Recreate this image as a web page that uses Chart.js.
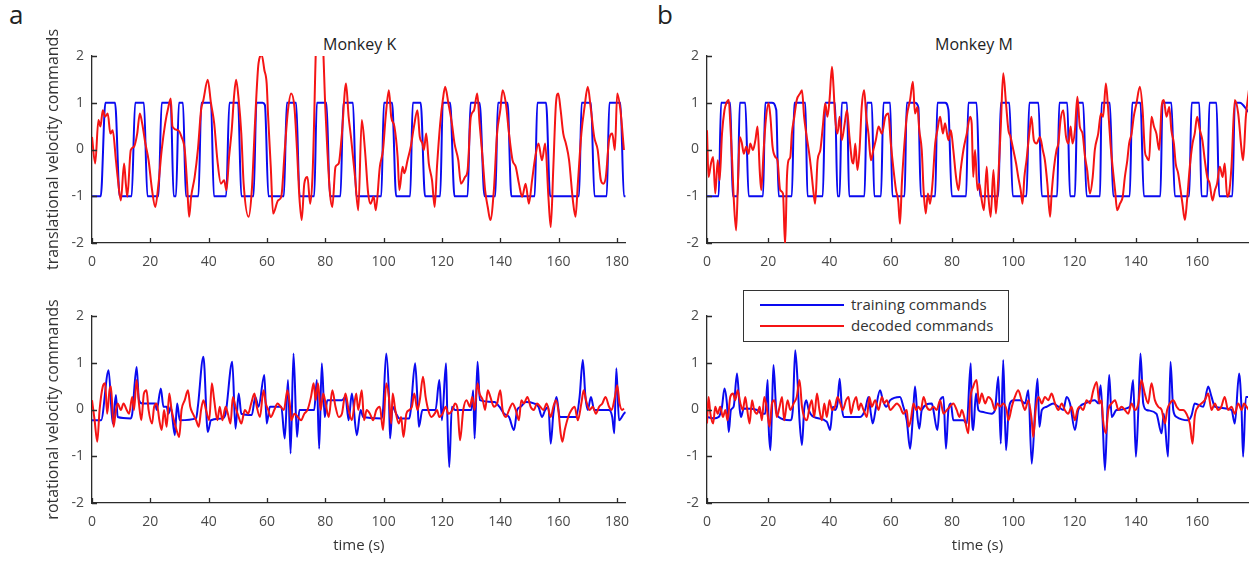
<!DOCTYPE html>
<html>
<head>
<meta charset="utf-8">
<script src="https://cdn.jsdelivr.net/npm/chart.js@4.4.1/dist/chart.umd.min.js"></script>
<style>
  body { margin: 0; background: #fff; }
  #wrap { position: relative; width: 1249px; height: 562px; overflow: hidden; font-family: 'Open Sans', sans-serif; color: #222; }
  canvas { position: absolute; }
  .txt { position: absolute; white-space: nowrap; }
  #legend { position: absolute; left: 743px; top: 290px; width: 264px; height: 50px; border: 1px solid #333; background: #fff; z-index: 5; }
  #legend .ln { position: absolute; left: 16px; width: 84px; height: 2px; }
  #legend .lt { position: absolute; left: 107px; font-size: 15px; color: #333; line-height: 18px; }
</style>
</head>
<body>
<div id="wrap">
  <div class="txt" style="left:9px;top:-4px;font-size:26px;">a</div>
  <div class="txt" style="left:657px;top:-4px;font-size:26px;">b</div>
  <div class="txt" style="left:323px;top:33px;font-size:16px;">Monkey K</div>
  <div class="txt" style="left:935px;top:33px;font-size:16px;">Monkey M</div>

  <canvas id="kTrans" width="640" height="269" style="left:0;top:10px"></canvas>
  <canvas id="kRot" width="640" height="279" style="left:0;top:280px"></canvas>
  <canvas id="mTrans" width="599" height="269" style="left:650px;top:10px"></canvas>
  <canvas id="mRot" width="599" height="279" style="left:650px;top:280px"></canvas>

  <div id="legend">
    <div class="ln" style="top:13px;background:#0a0af0"></div>
    <div class="lt" style="top:4px">training commands</div>
    <div class="ln" style="top:34px;background:#f51414"></div>
    <div class="lt" style="top:25px">decoded commands</div>
  </div>
</div>
<script>
// ---- data (time in s, command value) ----
const kTimeTicks = [0, 20, 40, 60, 80, 100, 120, 140, 160, 180];
const mTimeTicks = [0, 20, 40, 60, 80, 100, 120, 140, 160];
const valueTicks = [-2, -1, 0, 1, 2];
const kTimeMax = 183;
const mTimeMax = 176.6;

// Monkey K, translational
const kTransTraining = [[0,-1],[3.0,-1],[4.6,1],[7.9,1],[9.5,-1],[13.6,-1],[14.8,1],[17.8,1],[19.0,-1],[22.8,-1],[23.9,1],[27.0,1],[28.0,-1],[28.8,-1],[29.8,1],[31.2,1],[32.2,-1],[36.5,-1],[37.5,1],[40.8,1],[41.8,-1],[46.0,-1],[47.1,1],[50.1,1],[51.2,-1],[55.4,-1],[56.4,1],[58.5,1],[59.3,0.95],[60.5,-1],[65.8,-1],[66.8,1],[70.0,1],[71.2,-1],[76.2,-1],[77.1,1],[80.4,1],[81.6,-1],[85.2,-1],[86.2,1],[89.5,1],[90.6,-1],[99.2,-1],[100.1,1],[102.9,1],[104.3,-1],[109.1,-1],[110.0,1],[112.7,1],[114.2,-1],[119.4,-1],[120.3,1],[122.8,1],[124.3,-1],[128.8,-1],[129.8,1],[132.9,1],[134.6,-1],[138.3,-1],[139.2,1],[142.5,1],[143.8,-1],[151.8,-1],[152.7,1],[155.7,1],[157.1,-1],[167.0,-1],[167.9,1],[171.1,1],[172.3,-1],[176.5,-1],[177.4,1],[181.2,1],[182.4,-1],[183,-1]];
const kTransDecoded = [[0,0.27],[1.1,-0.3],[2.2,0.63],[2.9,0.49],[3.7,0.84],[4.5,0.7],[5.4,0.77],[6.3,0.34],[7.1,0.41],[8.2,-0.23],[8.8,-0.59],[9.9,-1.09],[11,-0.3],[11.6,-0.73],[12.1,-1.01],[13.3,-0.01],[14.4,0.06],[15.5,0.34],[16.4,0.77],[17.2,0.56],[18.3,0.13],[19.4,-0.23],[20.6,-0.87],[21.7,-1.23],[22.8,-0.73],[23.9,-0.01],[25.1,0.56],[26.2,0.91],[27,1.09],[27.6,0.49],[29.6,0.41],[30.7,0.27],[31.8,-0.01],[32.6,-0.73],[33.3,-1.44],[34,-1.01],[35.2,-0.59],[36.3,-0.01],[37.4,0.84],[38.2,1.06],[39.7,1.49],[40.8,0.99],[41.9,0.56],[43,-0.23],[44.2,-0.73],[45.3,-0.66],[46.1,-0.87],[47,-0.16],[47.9,0.41],[48.7,1.13],[49.4,1.49],[50.3,1.06],[51.2,0.34],[52,-0.73],[53.7,-1.44],[54.8,-0.87],[56,0.7],[57.1,1.84],[58.2,2.02],[59.1,1.7],[59.9,1.41],[60.4,0.7],[61.3,-0.37],[62.1,-1.37],[63.8,-1.09],[64.9,-1.01],[66.1,-0.01],[67.2,0.84],[68.3,1.2],[69.4,0.91],[70.3,-0.01],[71.1,-1.01],[71.9,-1.51],[72.8,-0.73],[73.9,-0.59],[74.8,-1.16],[75.6,-0.59],[76.0,0.2],[76.9,2.4],[78,3],[79.1,2.4],[80,0.9],[80.7,-0.01],[81.6,-0.94],[82.4,-1.23],[83.5,-0.37],[84.6,-0.3],[85.7,0.34],[87.1,1.41],[88,0.7],[88.8,0.27],[90.2,-0.59],[91.3,-1.3],[92.5,0.63],[93.6,-0.01],[94.7,-0.94],[95.5,-1.16],[96.6,-1.01],[97.3,-1.3],[98.7,-0.37],[99.8,-0.01],[100.7,0.7],[101.8,1.27],[102.6,0.7],[103.7,0.49],[104.8,-0.16],[105.4,-0.87],[106.5,-0.37],[107.1,-0.51],[108.2,-0.23],[109.3,0.06],[110.4,0.49],[111.6,0.84],[112.4,0.27],[113.3,0.13],[113.8,-0.01],[114.6,0.34],[115.5,-0.3],[116.6,-0.66],[117.5,-1.23],[118.3,-0.37],[119.4,0.56],[120.3,1.06],[121.1,1.34],[122.2,0.99],[123.4,0.56],[124.3,0.13],[125.6,-0.23],[126.5,-0.73],[127.9,-0.59],[128.8,-0.44],[129.9,0.7],[131,0.84],[132.1,1.2],[132.9,0.56],[134,-0.23],[134.8,-0.87],[135.7,-1.23],[136.6,-1.51],[137.8,-0.87],[138.9,0.34],[140,0.84],[140.8,1.27],[141.9,0.99],[143,0.34],[144.2,-0.23],[145.3,-0.37],[146.4,-0.73],[147.5,-1.01],[148.7,-0.73],[149.8,-1.16],[150.9,-0.66],[152,-0.16],[153.1,0.13],[154.3,-0.23],[155.4,0.13],[156.5,-1.01],[157.3,-1.66],[158.2,-0.37],[159.1,0.99],[159.9,1.2],[160.7,0.84],[161.6,0.34],[162.5,0.13],[163.6,-0.23],[164.9,-1.09],[165.8,-1.44],[166.6,-0.73],[167.8,0.34],[168.9,0.91],[170,1.34],[171.1,0.84],[172.2,0.27],[173.4,-0.01],[174.5,-0.66],[175.3,-0.73],[176.2,-0.59],[177.3,0.2],[178.4,0.34],[179.3,-0.01],[180.1,1.2],[181.2,0.84],[182.4,-0.01]];

// Monkey K, rotational
const kRotTraining = [[0,-0.23],[3.1,-0.23],[5.7,0.84],[7.1,-0.3],[8.2,0.31],[8.8,-0.16],[13.3,-0.19],[13.8,-0.09],[15.3,0.91],[16.1,0.2],[17.2,0.13],[21.7,0.13],[22.2,-0.01],[23.6,0.45],[24.5,0.06],[25.6,0.06],[26.2,-0.09],[27,0.06],[28.4,-0.55],[29.2,0.13],[30.1,-0.23],[35.7,-0.19],[36.3,0.06],[38.2,1.13],[39.7,-0.48],[40.8,-0.23],[44.7,-0.19],[45.8,-0.09],[48.1,1.02],[49.2,-0.41],[50.3,0.34],[51.2,-0.09],[54.8,-0.12],[56,0.27],[57.1,0.06],[59.1,0.74],[59.9,-0.3],[61,0.06],[64.9,0.06],[66.1,-0.62],[67.2,0.63],[68.1,-0.94],[69.1,1.2],[70.3,-0.59],[71.1,-0.01],[76.2,-0.01],[77.1,0.63],[77.9,-0.84],[78.8,0.99],[79.8,-0.16],[80.7,0.2],[85.7,0.2],[86.9,0.27],[88,-0.23],[89.1,0.34],[90.8,-0.55],[92.1,-0.01],[93,-0.16],[99.3,-0.19],[99.8,-0.01],[100.9,1.2],[101.8,0.34],[102.2,-0.62],[103.1,0.06],[104.3,-0.09],[105.4,-0.19],[108.8,-0.19],[109.3,-0.01],[110.8,0.99],[111.6,0.2],[112.1,-0.37],[113.3,-0.01],[117.8,-0.01],[119.1,0.63],[120,-0.23],[121.4,0.99],[121.8,-0.01],[122.5,-1.23],[123.4,0.06],[124.5,-0.01],[130.1,-0.01],[130.7,0.41],[131.2,-0.62],[132.2,1.02],[133,0.2],[138,0.16],[139.7,0.06],[141.3,-0.09],[143,-0.16],[144.7,-0.44],[145.8,-0.01],[147,0.06],[148.7,0.16],[151.5,0.13],[153.1,0.06],[154.3,-0.16],[155.4,-0.01],[156.5,0.06],[157.3,-0.73],[158.2,-0.09],[159.3,0.27],[160.4,-0.16],[166,-0.16],[167.2,0.27],[168.3,1.06],[169.2,0.27],[170,-0.01],[171.1,0.27],[172.2,-0.01],[177.3,-0.01],[178.4,-0.16],[179.1,-0.51],[179.8,0.88],[180.7,-0.23],[182.4,-0.09],[183,-0.05]];
const kRotDecoded = [[0,0.2],[0.9,-0.23],[1.8,-0.69],[2.6,-0.01],[3.7,0.49],[4.5,0.56],[5.2,-0.09],[6,0.41],[6.5,0.49],[7.4,-0.37],[8.2,-0.01],[8.8,0.13],[9.9,-0.01],[10.8,0.13],[11.9,-0.01],[12.7,-0.09],[13.8,0.27],[14.4,-0.01],[15.3,0.63],[16.1,0.13],[16.9,-0.23],[17.8,0.34],[18.7,0.41],[19.4,-0.01],[20.6,-0.3],[21.3,0.06],[22.2,0.13],[23.1,-0.23],[23.9,-0.44],[24.7,-0.01],[25.6,-0.37],[26.5,0.34],[27.3,-0.01],[28.1,-0.23],[29,-0.44],[29.9,-0.59],[30.7,-0.01],[31.8,0.2],[32.9,0.41],[33.7,0.06],[34.6,-0.09],[35.7,-0.23],[36.6,-0.37],[37.4,-0.01],[38.2,0.2],[39.1,-0.01],[40.2,-0.23],[41.1,0.56],[41.9,0.2],[43,-0.23],[43.8,0.06],[44.7,-0.23],[45.8,0.06],[46.6,-0.09],[47.5,-0.3],[48.3,0.27],[49.2,0.06],[50.3,-0.16],[51.2,-0.3],[52.4,-0.01],[53.5,-0.09],[54.6,0.13],[55.7,0.34],[56.5,0.06],[57.6,-0.16],[58.8,0.41],[59.6,0.13],[60.4,-0.01],[61.3,-0.16],[62.5,-0.01],[63.6,0.13],[64.7,0.06],[65.8,-0.01],[67,0.41],[67.8,0.13],[68.3,-0.23],[69.4,-0.09],[70.6,-0.16],[71.7,-0.23],[72.8,-0.09],[73.9,-0.01],[75.1,0.27],[76,0.56],[76.7,0.2],[77.5,0.56],[78.4,-0.01],[79.3,0.34],[80.1,0.13],[81.2,-0.16],[82.4,0.41],[83.5,0.06],[84.6,-0.16],[85.7,-0.09],[86.9,0.34],[88,-0.01],[89.1,-0.23],[90.6,0.34],[91.3,-0.01],[92.5,0.41],[93.3,-0.23],[94.2,-0.01],[95.3,-0.09],[96.4,-0.23],[97.5,-0.01],[98.7,0.06],[99.8,-0.44],[100.9,0.56],[101.8,0.27],[102.6,-0.3],[103.1,0.34],[104,-0.01],[105.2,-0.3],[106,-0.16],[106.8,-0.59],[107.8,-0.09],[108.8,-0.01],[109.7,0.06],[110.5,0.34],[111.6,-0.01],[112.4,0.2],[113.5,0.7],[114.4,0.27],[115.3,-0.01],[116.4,-0.16],[117.5,-0.09],[118.3,-0.01],[119.1,-0.16],[120.2,-0.09],[121.3,0.06],[122.2,-0.09],[123.6,-0.01],[124.5,0.13],[125.4,-0.01],[126.2,-0.66],[127.3,-0.01],[128.4,0.2],[129.6,0.06],[130.4,0.27],[131.2,-0.01],[132.2,0.56],[132.9,0.34],[134,0.2],[134.8,-0.01],[135.7,0.41],[136.6,0.27],[137.8,0.06],[138.9,0.13],[140,0.41],[140.8,-0.01],[141.9,-0.16],[143,-0.01],[144.2,0.13],[145.3,-0.01],[146.4,-0.23],[147.2,0.2],[148.1,0.13],[149.3,0.27],[150.4,0.06],[151.5,-0.01],[152.6,0.13],[153.7,0.06],[154.8,-0.01],[155.9,0.13],[157.3,-0.16],[158.2,0.06],[159.1,0.2],[159.9,-0.01],[160.7,-0.51],[161.3,-0.69],[162.1,-0.44],[163.3,-0.16],[164.4,-0.01],[165.5,0.06],[166.6,-0.23],[167.8,0.13],[168.6,0.41],[169.4,0.2],[170.6,-0.01],[171.7,0.06],[172.8,-0.09],[173.9,0.06],[175,0.13],[176.1,0.27],[177.3,0.06],[178.2,-0.01],[179.3,0.27],[180.1,0.52],[180.9,0.13],[181.8,-0.01],[182.4,0.02]];

// Monkey M, translational
const mTransTraining = [[0,-1],[3.8,-1],[4.6,1],[7.6,1],[8.4,-1],[10,-1],[10.7,1],[12.5,1],[13.6,-1],[18.3,-1],[19,1],[21.2,1],[22.6,0.85],[23.4,-1],[27.7,-1],[28.5,1],[32.1,1],[32.8,-1],[37.8,-1],[38.6,1],[41.8,1],[42.6,-1],[43.3,-1],[44,1],[45.7,1],[46.4,-1],[51.4,-1],[52.2,1],[53.8,1],[54.6,-1],[56.8,-1],[57.6,1],[59.8,1],[60.5,-1],[64.5,-1],[65.2,1],[67.9,1],[69,0.9],[69.8,-1],[74.5,-1],[75.2,1],[77.7,1],[78.8,0.85],[79.9,-1],[84.6,-1],[85.3,1],[88,1],[89.1,-1],[95.1,-1],[95.9,1],[98.7,1],[99.8,-1],[104.3,-1],[105.2,1],[108.2,1],[109.3,-1],[114.3,-1],[115,1],[117.6,1],[118.5,-1],[120.1,-1],[120.9,1],[122.8,1],[123.9,-1],[128.3,-1],[128.8,1],[131.5,1],[132.6,-1],[138,-1],[138.8,1],[141.5,1],[142.6,-1],[148,-1],[148.7,1],[151.6,1],[152.7,-1],[157.4,-1],[158.2,1],[160.7,1],[161.4,-1],[163.3,-1],[164,1],[166.3,1],[167.2,-1],[171.5,-1],[172.3,1],[173.9,1],[176.8,0.8]];
const mTransDecoded = [[0,0.41],[0.5,-0.59],[1.3,-0.3],[2,-0.16],[2.7,-0.94],[3.5,-0.23],[4.1,-0.66],[4.9,0.34],[5.7,0.84],[6.3,0.99],[7.1,1.06],[7.6,0.56],[8.2,-0.23],[8.7,-1.01],[9.5,-1.73],[10.1,-0.73],[10.7,0.27],[11.4,0.13],[12,-0.09],[12.8,0.06],[13.6,-0.09],[14.1,0.13],[15,-0.01],[15.8,0.2],[16.5,0.49],[17.2,-0.44],[17.7,-0.87],[18.5,-0.01],[19.2,0.63],[20.1,0.99],[20.7,0.7],[21.4,0.06],[22.3,-0.16],[23,-0.23],[23.9,-0.87],[24.8,-0.94],[25.5,-2.05],[26.1,-0.59],[26.6,-0.23],[27.2,-0.16],[27.7,0.34],[28.5,0.7],[29.3,1.06],[30.4,1.2],[31,1.27],[31.7,0.7],[32.4,0.34],[33.2,-0.01],[33.9,-0.37],[34.8,-0.94],[35.3,-1.16],[36.1,-0.23],[37,-0.01],[37.8,0.49],[38.6,0.99],[39.3,0.7],[40,1.06],[40.8,1.77],[41.3,1.34],[41.8,0.7],[42.6,0.34],[43.3,0.7],[44,0.2],[44.8,0.49],[45.7,0.84],[46.5,0.27],[47.3,-0.23],[47.8,-0.3],[48.4,0.13],[49.1,-0.44],[49.8,-0.01],[50.5,0.91],[51.3,1.27],[52,0.7],[52.7,0.34],[53.5,-0.23],[54.3,-0.01],[55.1,0.2],[56,0.49],[57.1,0.34],[58.2,0.7],[59.2,0.77],[60,0.13],[60.9,-0.44],[61.7,-0.87],[62.4,-1.09],[63,-1.59],[63.6,-0.73],[64.3,-0.01],[65.2,0.7],[66.3,1.06],[67.2,1.45],[67.9,0.77],[68.7,0.91],[69.3,0.41],[70.1,-0.01],[70.7,-0.87],[71.4,-1.37],[72.1,-0.94],[72.8,-1.16],[73.6,-0.73],[74.5,0.13],[75.2,0.41],[76.1,0.7],[77,0.34],[77.7,0.56],[78.8,0.2],[79.6,0.41],[80.4,-0.01],[81.3,-0.59],[82.1,-0.87],[82.8,-0.44],[83.7,-0.01],[84.8,0.34],[85.9,0.7],[86.4,0.56],[86.9,-0.59],[87.5,-0.01],[88.3,-0.87],[88.9,-0.73],[89.7,-1.09],[90.4,-1.3],[91.3,-0.37],[91.8,-0.94],[92.6,-1.44],[93.5,-0.44],[94.3,-1.37],[95.1,-0.59],[95.9,0.49],[96.7,1.63],[97.6,0.99],[98.4,0.41],[99.1,0.27],[100,-0.01],[100.9,-0.3],[101.6,-0.59],[102.4,-0.87],[103,-1.16],[103.6,-0.59],[104.3,-0.23],[105.2,0.34],[105.9,0.7],[106.7,0.2],[107.6,0.13],[108.7,0.27],[109.6,-0.01],[110.3,-0.23],[111.1,-0.73],[112,-1.44],[112.5,-0.94],[113.3,-0.37],[114.1,-0.01],[114.7,0.13],[115.4,0.63],[116.3,0.84],[117.2,0.27],[118,0.13],[118.7,0.49],[119.3,0.13],[120.1,0.41],[120.9,1.13],[121.7,0.49],[122.6,0.34],[123.4,-0.16],[124.1,-0.44],[125,-0.94],[125.9,-0.59],[126.6,-0.01],[127.7,0.34],[128.6,0.77],[129.3,0.7],[130.2,1.41],[130.9,0.91],[131.7,0.13],[132.4,-0.37],[133.2,-0.87],[133.9,-1.3],[134.8,-1.16],[135.7,-1.01],[136.4,-0.59],[137.2,-0.23],[137.8,0.13],[138.6,0.34],[139.3,0.7],[140.2,0.99],[141.3,1.34],[142.2,0.84],[142.9,-0.01],[143.5,-0.16],[144.3,-0.23],[145.1,0.7],[145.9,0.49],[146.7,0.34],[147.6,-0.01],[148.4,0.91],[149.1,1.06],[150,0.7],[150.9,0.91],[151.6,0.41],[152.4,0.13],[153,-0.3],[153.8,-0.51],[154.6,-0.87],[155.2,-1.16],[156,-1.51],[156.7,-1.09],[157.6,-0.37],[158.5,0.13],[159.2,0.34],[160,0.7],[160.9,0.41],[161.7,0.2],[162.5,-0.23],[163.3,-0.59],[164.1,-0.73],[165,-1.09],[165.8,-0.87],[166.5,-0.73],[167.4,-0.37],[168.3,-0.59],[169,-0.3],[169.8,-1.01],[170.4,-0.94],[171.2,-0.37],[172.3,1.06],[173.4,0.77],[174.5,-0.01],[175,-0.23],[175.9,0.7],[176.9,1.27]];

// Monkey M, rotational
const mRotTraining = [[0,-0.16],[2.2,-0.19],[3.8,-0.16],[4.9,0.06],[5.7,0.45],[6.5,0.13],[7.1,-0.48],[7.8,-0.01],[8.7,0.06],[9.8,0.77],[10.7,-0.01],[11.1,-0.16],[12,0.02],[16.3,-0.01],[17.9,-0.09],[19,-0.09],[19.8,0.63],[20.1,-0.3],[20.7,-0.87],[21.2,-0.01],[21.7,0.95],[22.6,-0.01],[23.4,-0.16],[27.2,-0.23],[28,-0.01],[28.8,1.27],[29.6,0.56],[30.2,-0.23],[31,-0.76],[31.7,-0.01],[32.4,0.2],[33.2,-0.01],[34.8,-0.16],[39.1,-0.26],[40.2,-0.44],[41.1,0.06],[41.8,-0.01],[42.6,0.13],[43.3,0.66],[44,0.06],[44.6,-0.16],[50,-0.16],[51.6,-0.01],[52.7,0.27],[53.5,-0.09],[54.1,-0.3],[55.2,0.06],[56.5,0.41],[57.4,0.2],[58.5,0.06],[59.8,0.2],[63,0.27],[64.1,0.06],[65.2,-0.23],[66.3,-0.84],[67.2,-0.16],[67.9,0.49],[68.7,-0.16],[69.3,-0.41],[70.1,-0.01],[73.4,0.13],[73.9,-0.01],[75.2,-0.44],[76.1,0.2],[77.2,0.27],[78,-0.84],[78.8,-0.01],[79.6,0.13],[80.4,-0.23],[83.7,-0.23],[84.8,-0.3],[86.1,0.99],[86.4,-0.01],[86.9,-0.44],[87.8,0.34],[88.6,-0.01],[89.7,-0.05],[92.9,-0.09],[94,-0.01],[95.1,0.7],[95.9,-0.73],[96.7,1.06],[97.6,-0.87],[98.4,-0.09],[98.9,0.13],[100,0.2],[102.2,0.2],[103.8,0.13],[104.9,0.41],[106,-1.16],[107.1,-0.01],[107.9,0.66],[108.5,-0.37],[109.3,-0.01],[110.9,0.06],[113,0.13],[114.7,0.06],[116.3,-0.01],[117.4,0.27],[118.5,0.13],[120.1,-0.44],[121.2,-0.01],[123.4,0.13],[126.6,0.2],[127.7,0.13],[128.5,0.52],[129.1,-0.16],[129.9,-1.3],[130.7,-0.01],[131.3,0.74],[132.1,-0.16],[133.7,-0.01],[138,0.06],[139.1,0.63],[140,-1.01],[140.8,-0.01],[141.5,1.2],[142.4,0.13],[143.5,-0.01],[146.7,-0.09],[148.4,-0.51],[149.1,-0.09],[150.5,-1.01],[151.3,1.02],[152.2,-0.01],[153.3,-0.16],[157.1,-0.23],[158.2,-0.12],[159.2,0.13],[162,0.06],[163.6,0.49],[164.7,0.27],[165.8,0.06],[171.2,-0.01],[172.3,-0.3],[173.7,0.77],[174.5,-0.01],[175,-1.01],[175.9,0.27],[176.7,0.27]];
const mRotDecoded = [[0,-0.3],[0.5,0.27],[1.1,-0.09],[2,-0.3],[2.7,0.06],[3.5,-0.09],[4.3,0.06],[5.2,-0.16],[6,-0.01],[6.7,-0.23],[7.6,0.27],[8.5,0.34],[9.2,0.2],[10,0.41],[10.9,0.13],[11.7,-0.01],[12.5,0.27],[13,0.06],[13.9,-0.3],[14.7,0.2],[15.4,-0.01],[16.3,-0.09],[17.2,0.06],[17.9,-0.23],[18.7,0.27],[19.6,-0.01],[20.4,-0.37],[21.2,0.13],[22,0.2],[22.8,-0.16],[23.7,0.06],[24.5,0.27],[25.2,-0.23],[26.3,0.2],[27.2,-0.01],[28.3,0.13],[29.3,0.27],[30.2,0.63],[31,0.06],[31.7,-0.16],[32.6,-0.23],[33.5,0.06],[34.2,0.2],[35,-0.16],[35.9,0.34],[36.7,-0.01],[37.5,-0.23],[38.3,0.13],[39.1,-0.16],[40,0.2],[40.8,-0.01],[41.8,0.06],[42.6,0.27],[43.5,0.13],[44.3,-0.01],[45.4,0.2],[46.2,0.27],[47,-0.09],[47.8,0.13],[48.7,0.27],[49.5,-0.01],[50.2,0.13],[51.1,-0.01],[52.2,-0.16],[53,0.27],[53.8,0.06],[54.9,0.2],[56,-0.01],[57.1,0.27],[57.8,0.13],[58.7,0.2],[59.8,-0.01],[60.9,0.06],[62,0.13],[63,0.06],[64.1,-0.09],[65.2,-0.01],[65.8,-0.37],[66.5,-0.23],[67.4,0.13],[68.3,-0.01],[69,0.06],[69.8,-0.01],[70.7,0.27],[71.7,0.06],[72.8,-0.01],[73.9,0.06],[75,-0.01],[76.1,0.2],[77.2,-0.09],[78.3,-0.01],[79.3,0.06],[80.4,0.13],[81.5,-0.01],[82.4,-0.16],[83.2,-0.01],[84.2,-0.23],[85.3,-0.51],[85.9,0.2],[86.9,0.49],[88,0.63],[88.8,0.13],[89.7,0.34],[90.8,0.13],[91.8,0.27],[92.9,0.2],[94,-0.01],[94.8,0.13],[95.7,0.06],[96.7,0.13],[97.8,-0.01],[98.4,-0.23],[99.5,0.06],[100.5,0.27],[101.6,0.41],[102.7,0.2],[103.8,-0.01],[104.9,0.2],[106,-0.23],[106.5,-0.59],[107.4,0.06],[108.2,0.27],[109.3,0.13],[110.3,0.27],[111.4,0.2],[112.5,0.34],[113.6,0.13],[114.7,-0.01],[115.8,0.13],[116.8,-0.01],[117.9,-0.09],[119,0.06],[120.1,-0.23],[120.9,-0.01],[121.7,0.06],[122.8,-0.01],[123.9,0.2],[125,0.13],[126.1,0.41],[127.2,0.59],[128.1,0.13],[128.8,0.2],[129.3,-0.23],[130.2,-0.51],[131,-0.01],[132.1,0.13],[133.2,0.2],[134.3,-0.01],[135.3,0.06],[136.4,-0.01],[137.5,-0.09],[138.6,0.13],[139.7,-0.01],[140.8,0.13],[141.8,0.63],[142.9,0.34],[144,0.13],[145.1,0.56],[146.2,0.2],[147.3,0.06],[148.4,-0.01],[149.5,-0.3],[150.2,-0.01],[151.1,0.13],[152.2,0.2],[153.3,0.06],[154.3,-0.01],[155.4,-0.01],[156.5,-0.09],[157.6,-0.3],[158.5,-0.73],[159.2,-0.16],[160.3,0.06],[161.4,0.13],[162.5,0.2],[163.6,0.34],[164.7,-0.01],[165.8,0.13],[166.8,-0.01],[167.9,0.06],[169,0.27],[170.1,-0.01],[171.2,0.06],[172.3,-0.09],[173.4,0.13],[174.5,-0.01],[175.3,0.13],[176.1,0.06],[176.9,-0.01]];

// ---- drawing ----
const BLUE = '#0a0af0';
const RED = '#f51414';
const AXIS = '#2b2b2b';
const TICK = '#4a4a4a';

Chart.defaults.font.family = "'Open Sans', sans-serif";

// matlab-style ticks pointing into the plot
const inwardTicks = {
  id: 'inwardTicks',
  afterDraw(chart) {
    const { ctx, chartArea, scales: { x, y } } = chart;
    ctx.save();
    ctx.strokeStyle = AXIS;
    ctx.lineWidth = 1.3;
    ctx.beginPath();
    x.ticks.forEach(t => {
      const px = Math.round(x.getPixelForValue(t.value)) + 0.5;
      ctx.moveTo(px, chartArea.bottom);
      ctx.lineTo(px, chartArea.bottom - 5);
    });
    y.ticks.forEach(t => {
      const py = Math.round(y.getPixelForValue(t.value)) + 0.5;
      ctx.moveTo(chartArea.left, py);
      ctx.lineTo(chartArea.left + 5, py);
    });
    ctx.stroke();
    ctx.restore();
  }
};

function makePanel(id, xMax, xTicks, training, decoded, o) {
  const line = { borderWidth: 2, pointRadius: 0, cubicInterpolationMode: 'monotone', clip: 0 };
  new Chart(document.getElementById(id), {
    type: 'line',
    data: {
      datasets: [
        { ...line, label: 'decoded commands', data: decoded, borderColor: RED },
        { ...line, label: 'training commands', data: training, borderColor: BLUE }
      ]
    },
    options: {
      responsive: false,
      animation: false,
      devicePixelRatio: 1,
      layout: { padding: { top: o.padTop, right: o.padRight, left: o.padLeft, bottom: 0 } },
      plugins: { legend: { display: false }, tooltip: { enabled: false } },
      scales: {
        x: {
          type: 'linear', min: 0, max: xMax,
          grid: { display: false, drawTicks: false },
          border: { display: true, color: AXIS, width: 1.3 },
          ticks: { color: TICK, font: { size: 14 }, padding: 11, maxRotation: 0, autoSkip: false },
          afterBuildTicks: s => { s.ticks = xTicks.map(v => ({ value: v })); },
          afterFit: s => { s.height = o.xHeight; },
          title: { display: !!o.xTitle, text: o.xTitle, color: '#333', font: { size: 15 }, padding: { top: 0, bottom: 4 } }
        },
        y: {
          min: -2, max: 2,
          grid: { display: false, drawTicks: false },
          border: { display: true, color: AXIS, width: 1.3 },
          ticks: { color: TICK, font: { size: 14 }, padding: 8 },
          afterBuildTicks: s => { s.ticks = valueTicks.map(v => ({ value: v })); },
          afterFit: s => { s.width = o.yWidth; },
          title: { display: !!o.yTitle, text: o.yTitle, color: '#333', font: { size: 16 }, padding: { top: 4, bottom: 0 } }
        }
      }
    },
    plugins: [inwardTicks]
  });
}

makePanel('kTrans', kTimeMax, kTimeTicks, kTransTraining, kTransDecoded,
  { padTop: 46, padLeft: 40, padRight: 4, yWidth: 52, xHeight: 36, yTitle: 'translational velocity commands' });
makePanel('kRot', kTimeMax, kTimeTicks, kRotTraining, kRotDecoded,
  { padTop: 36, padLeft: 40, padRight: 4, yWidth: 52, xHeight: 56, yTitle: 'rotational velocity commands', xTitle: 'time (s)' });
makePanel('mTrans', mTimeMax, mTimeTicks, mTransTraining, mTransDecoded,
  { padTop: 46, padLeft: 0, padRight: 1, yWidth: 57, xHeight: 36 });
makePanel('mRot', mTimeMax, mTimeTicks, mRotTraining, mRotDecoded,
  { padTop: 36, padLeft: 0, padRight: 1, yWidth: 57, xHeight: 56, xTitle: 'time (s)' });
</script>
</body>
</html>
